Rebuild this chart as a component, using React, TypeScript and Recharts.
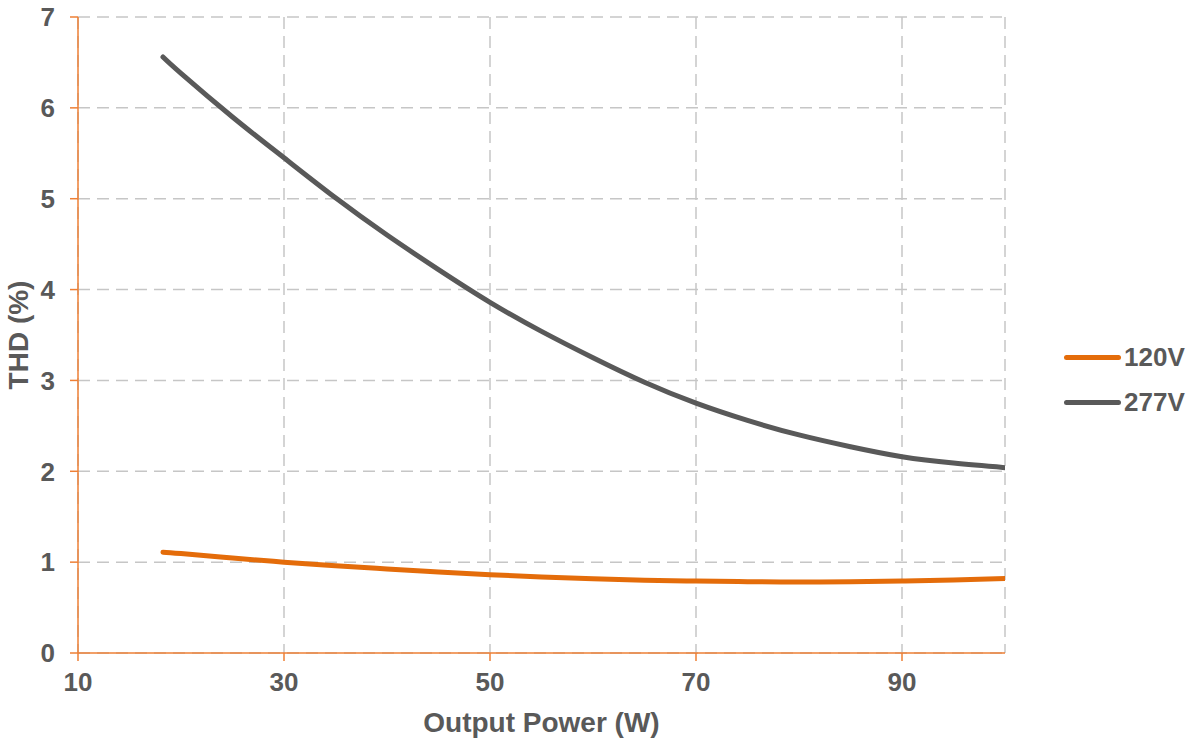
import { LineChart, Line, XAxis, YAxis, CartesianGrid } from 'recharts';

const power = [18.25, 20, 25, 30, 35, 40, 45, 50, 55, 60, 65, 70, 75, 80, 85, 90, 95, 100];
const thd120 = [1.11, 1.095, 1.045, 1.0, 0.96, 0.925, 0.892, 0.862, 0.837, 0.817, 0.802, 0.792, 0.785, 0.782, 0.784, 0.792, 0.804, 0.82];
const thd277 = [6.56, 6.38, 5.9, 5.45, 5.01, 4.6, 4.22, 3.86, 3.54, 3.25, 2.98, 2.75, 2.56, 2.4, 2.27, 2.16, 2.09, 2.04];
const xTicks = [10, 30, 50, 70, 90];
const yTicks = [0, 1, 2, 3, 4, 5, 6, 7];
const series = [
  { key: 'v120', name: '120V', color: '#E46C0A' },
  { key: 'v277', name: '277V', color: '#595959' },
];

const data = power.map((p, i) => ({ power: p, v120: thd120[i], v277: thd277[i] }));

const FONT = '"Liberation Sans", Arial, sans-serif';
const TEXT = '#595959';
const AXIS = '#EE7F35';
const tickStyle = { fill: TEXT, fontSize: 26, fontWeight: 700, fontFamily: FONT };
const titleStyle = { ...tickStyle, fontSize: 28 };

export default function App() {
  return (
    <div style={{ position: 'absolute', left: 0, top: 0, width: 1188, height: 738, background: '#fff' }}>
      <LineChart width={1188} height={738} data={data} margin={{ top: 17, right: 183, bottom: 0, left: 0 }}>
        <CartesianGrid stroke="#C6C6C6" strokeWidth={1.5} strokeDasharray="12 7" />
        <XAxis
          dataKey="power"
          type="number"
          domain={[10, 100]}
          ticks={xTicks}
          allowDataOverflow
          height={85}
          tick={tickStyle}
          tickSize={8}
          tickMargin={12}
          axisLine={{ stroke: AXIS, strokeWidth: 1.5 }}
          tickLine={{ stroke: AXIS, strokeWidth: 1.5 }}
          label={{ value: 'Output Power (W)', position: 'insideBottom', offset: 6, style: titleStyle }}
        />
        <YAxis
          type="number"
          domain={[0, 7]}
          ticks={yTicks}
          width={78}
          tick={tickStyle}
          tickSize={8}
          tickMargin={15}
          axisLine={{ stroke: AXIS, strokeWidth: 1.5 }}
          tickLine={{ stroke: AXIS, strokeWidth: 1.5 }}
          label={{ value: 'THD (%)', angle: -90, position: 'center', dx: -21, style: titleStyle }}
        />
        {series.map((s) => (
          <Line
            key={s.key}
            type="natural"
            dataKey={s.key}
            name={s.name}
            stroke={s.color}
            strokeWidth={5}
            strokeLinecap="round"
            dot={false}
            activeDot={false}
            isAnimationActive={false}
          />
        ))}
      </LineChart>
      <div style={{ position: 'absolute', left: 1064, top: 335 }}>
        {series.map((s) => (
          <div key={s.key} style={{ display: 'flex', alignItems: 'center', height: 45 }}>
            <div style={{ width: 57, height: 5, borderRadius: 3, background: s.color, marginRight: 3 }} />
            <span style={{ fontFamily: FONT, fontSize: 26, fontWeight: 700, color: TEXT }}>{s.name}</span>
          </div>
        ))}
      </div>
    </div>
  );
}
